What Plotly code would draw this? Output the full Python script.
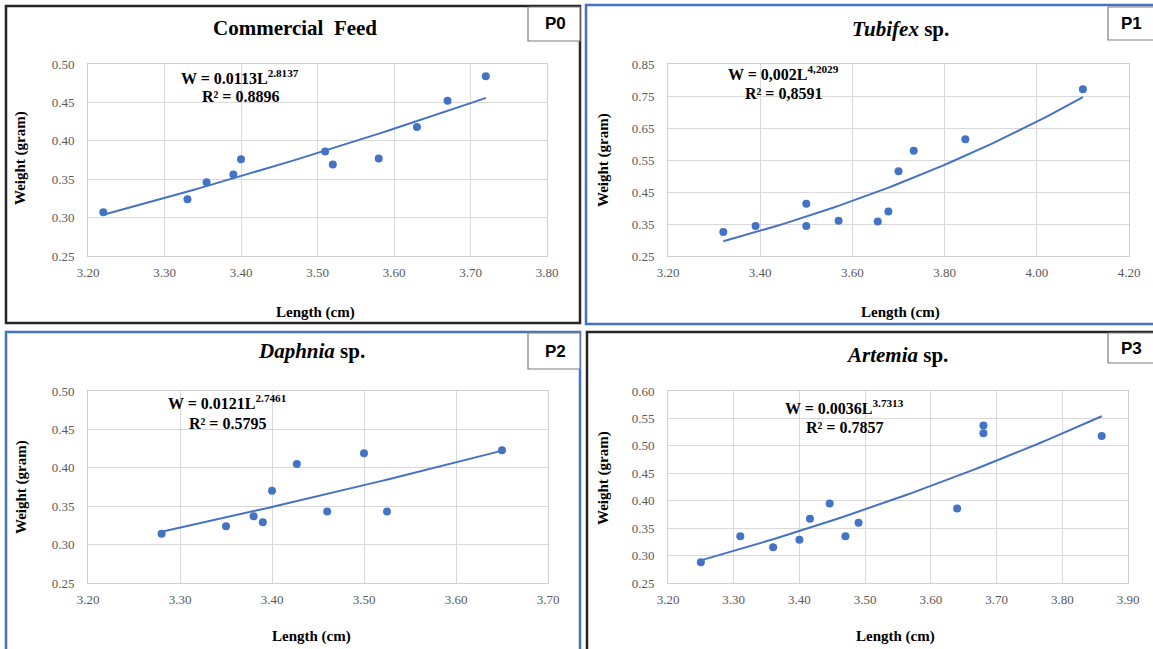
import numpy as np
import plotly.graph_objects as go

# ---------------- data ----------------
p0_length = [3.22, 3.33, 3.355, 3.39, 3.40, 3.51, 3.52, 3.58, 3.63, 3.67, 3.72]
p0_weight = [0.307, 0.324, 0.346, 0.356, 0.376, 0.386, 0.369, 0.377, 0.418, 0.452, 0.484]

p1_length = [3.32, 3.39, 3.50, 3.50, 3.57, 3.655, 3.678, 3.70, 3.733, 3.845, 4.10]
p1_weight = [0.325, 0.344, 0.413, 0.344, 0.360, 0.358, 0.389, 0.515, 0.579, 0.615, 0.771]

p2_length = [3.28, 3.35, 3.38, 3.39, 3.40, 3.427, 3.46, 3.50, 3.525, 3.65]
p2_weight = [0.314, 0.324, 0.337, 0.329, 0.370, 0.405, 0.343, 0.419, 0.343, 0.423]

p3_length = [3.25, 3.31, 3.36, 3.40, 3.416, 3.446, 3.47, 3.49, 3.64, 3.68, 3.68, 3.86]
p3_weight = [0.288, 0.335, 0.315, 0.329, 0.367, 0.395, 0.335, 0.360, 0.386, 0.537, 0.523, 0.518]

titles = ["<b>Commercial  Feed</b>", "<b><i>Tubifex</i> sp.</b>",
          "<b><i>Daphnia</i> sp.</b>", "<b><i>Artemia</i> sp.</b>"]
equations = ["W = 0.0113L<sup>2.8137</sup>", "W = 0,002L<sup>4,2029</sup>",
             "W = 0.0121L<sup>2.7461</sup>", "W = 0.0036L<sup>3.7313</sup>"]
r2_labels = ["R² = 0.8896", "R² = 0,8591", "R² = 0.5795", "R² = 0.7857"]
panel_tags = ["P0", "P1", "P2", "P3"]
x_ranges = [(3.2, 3.8, 0.1), (3.2, 4.2, 0.2), (3.2, 3.7, 0.1), (3.2, 3.9, 0.1)]
y_ranges = [(0.25, 0.50, 0.05), (0.25, 0.85, 0.10), (0.25, 0.50, 0.05), (0.25, 0.60, 0.05)]

series = [(p0_length, p0_weight), (p1_length, p1_weight),
          (p2_length, p2_weight), (p3_length, p3_weight)]

# ---------------- layout helpers ----------------
W, H = 1153, 649
def px(x):
    return x / W
def py(y):
    return 1 - y / H

BLUE = "#4472C4"
SERIF = "Liberation Serif, Times New Roman, serif"
SANS = "Liberation Sans, Arial, sans-serif"

# plot areas in pixels: (left, right, top, bottom)
areas = [(88, 547, 64, 256), (668, 1129, 64, 256), (88, 548, 391, 583), (668, 1128, 391, 583)]
title_pos = [(295, 28), (900, 29), (311, 351), (897, 355)]
eq_pos = [(240, 77, 97), (783, 73, 94), (227, 402, 423), (844, 407, 427)]
xlab_pos = [(315, 312), (900, 312), (311, 636), (895, 636)]
ylab_pos = [(21, 158), (603, 160), (21, 487), (603, 478)]
tag_boxes = [(528, 580, 7, 41), (1108, 1160, 7, 40), (528, 580, 333, 369), (1108, 1160, 333, 363)]
borders = [(6, 580, 6, 323, "#262626"), (586, 1160, 5, 324, BLUE),
           (6, 580, 332, 660, BLUE), (587, 1160, 332, 660, "#262626")]

fig = go.Figure()
layout = dict(width=W, height=H, margin=dict(l=0, r=0, t=0, b=0, pad=0, autoexpand=False),
              paper_bgcolor="white", plot_bgcolor="white", showlegend=False,
              template="none")
annotations = []
shapes = []

for i, (xs, ys) in enumerate(series):
    n = "" if i == 0 else str(i + 1)
    xa, ya = "x" + n, "y" + n
    fig.add_trace(go.Scatter(x=xs, y=ys, mode="markers", xaxis=xa, yaxis=ya,
                             marker=dict(color=BLUE, size=8, line=dict(width=0))))
    # power trend line fitted in log space (as a spreadsheet power trendline)
    b, ln_a = np.polyfit(np.log(xs), np.log(ys), 1)
    tx = np.linspace(min(xs), max(xs), 60)
    ty = np.exp(ln_a) * tx ** b
    fig.add_trace(go.Scatter(x=tx, y=ty, mode="lines", xaxis=xa, yaxis=ya,
                             line=dict(color=BLUE, width=2)))

    l, r, t, btm = areas[i]
    x0, x1, dx = x_ranges[i]
    y0, y1, dy = y_ranges[i]
    layout["xaxis" + n] = dict(domain=[px(l), px(r)], range=[x0, x1], dtick=dx, tick0=x0,
                               anchor=ya, tickformat=".2f", showgrid=True, automargin=False,
                               gridcolor="#d9d9d9", gridwidth=1, showline=True,
                               linecolor="#d0d0d0", linewidth=1, mirror=True,
                               zeroline=False, ticks="", ticklabelstandoff=4,
                               tickfont=dict(family=SERIF, size=13, color="#595959"))
    layout["yaxis" + n] = dict(domain=[py(btm), py(t)], range=[y0, y1], dtick=dy, tick0=y0,
                               anchor=xa, tickformat=".2f", showgrid=True, automargin=False,
                               gridcolor="#d9d9d9", gridwidth=1, showline=True,
                               linecolor="#d0d0d0", linewidth=1, mirror=True,
                               zeroline=False, ticks="", ticklabelstandoff=10,
                               tickfont=dict(family=SERIF, size=13, color="#595959"))

    tx_, ty_ = title_pos[i]
    annotations.append(dict(text=titles[i], x=px(tx_), y=py(ty_), xref="paper", yref="paper",
                            showarrow=False, xanchor="center", yanchor="middle",
                            font=dict(family=SERIF, size=21, color="#000000")))
    ex, ey1, ey2 = eq_pos[i]
    annotations.append(dict(text="<b>" + equations[i] + "</b>", x=px(ex), y=py(ey1),
                            xref="paper", yref="paper", showarrow=False,
                            xanchor="center", yanchor="middle",
                            font=dict(family=SERIF, size=16, color="#000000")))
    annotations.append(dict(text="<b>" + r2_labels[i] + "</b>", x=px(ex), y=py(ey2),
                            xref="paper", yref="paper", showarrow=False,
                            xanchor="center", yanchor="middle",
                            font=dict(family=SERIF, size=16, color="#000000")))
    lx, ly = xlab_pos[i]
    annotations.append(dict(text="<b>Length (cm)</b>", x=px(lx), y=py(ly), xref="paper",
                            yref="paper", showarrow=False, xanchor="center", yanchor="middle",
                            font=dict(family=SERIF, size=15, color="#000000")))
    wx, wy = ylab_pos[i]
    annotations.append(dict(text="<b>Weight (gram)</b>", x=px(wx), y=py(wy), xref="paper",
                            yref="paper", showarrow=False, xanchor="center", yanchor="middle",
                            textangle=-90,
                            font=dict(family=SERIF, size=15, color="#000000")))

    bx0, bx1, by0, by1, bc = borders[i]
    shapes.append(dict(type="rect", xref="paper", yref="paper", x0=px(bx0), x1=px(bx1),
                       y0=py(by1), y1=py(by0), line=dict(color=bc, width=2.5),
                       fillcolor="rgba(0,0,0,0)", layer="above"))
    gx0, gx1, gy0, gy1 = tag_boxes[i]
    shapes.append(dict(type="rect", xref="paper", yref="paper", x0=px(gx0), x1=px(gx1),
                       y0=py(gy1), y1=py(gy0), line=dict(color="#7f7f7f", width=1.2),
                       fillcolor="white", layer="above"))
    annotations.append(dict(text="<b>" + panel_tags[i] + "</b>",
                            x=px((gx0 + min(gx1, 1153)) / 2 + 1), y=py((gy0 + gy1) / 2),
                            xref="paper", yref="paper", showarrow=False,
                            xanchor="center", yanchor="middle",
                            font=dict(family=SANS, size=17, color="#000000")))

layout["annotations"] = annotations
layout["shapes"] = shapes
fig.update_layout(**layout)
fig.write_html("out.html", config={"displayModeBar": False},
               post_script="document.body.style.margin='0';document.body.style.overflow='hidden';")
